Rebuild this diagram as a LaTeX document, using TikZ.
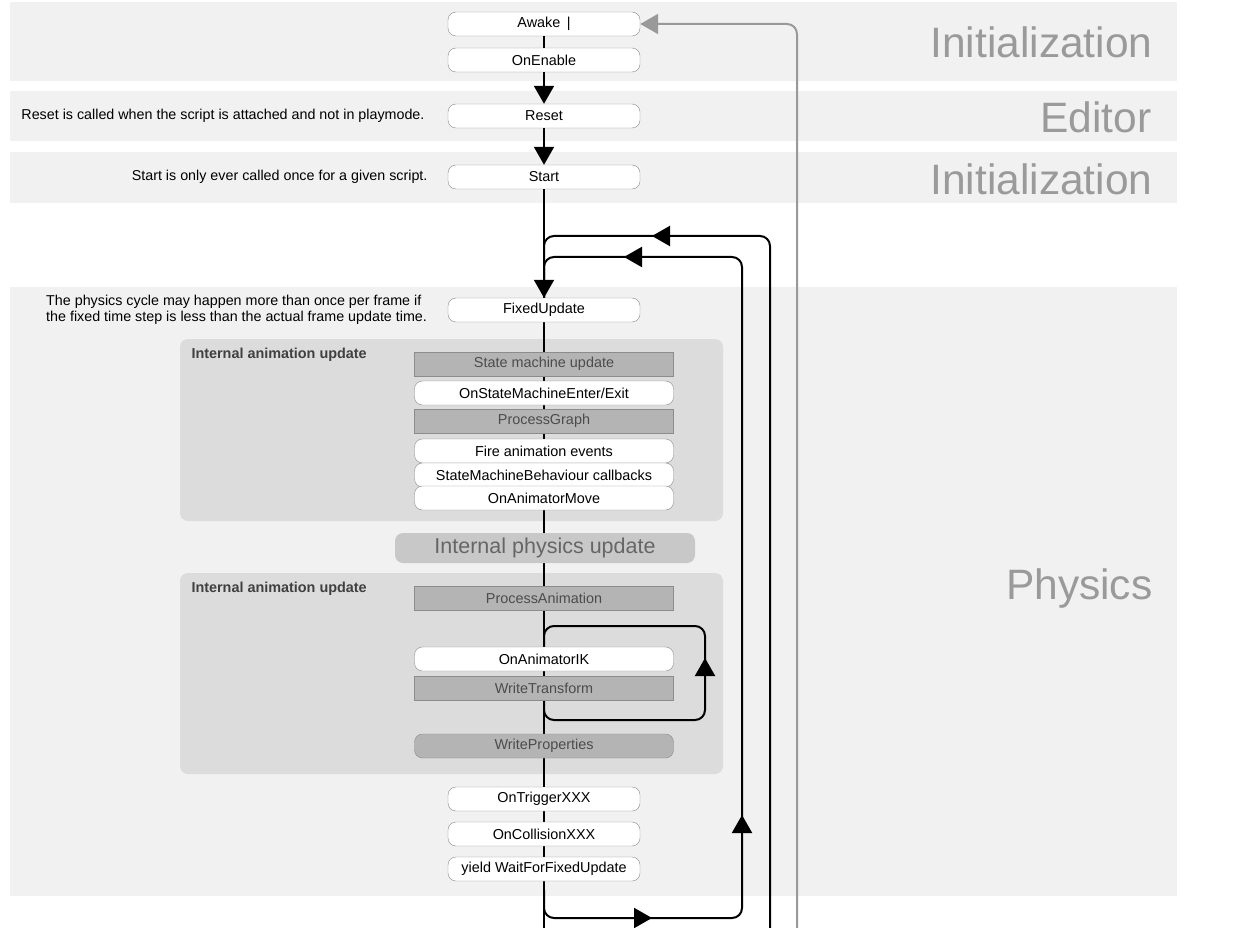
\documentclass[tikz,border=0pt]{standalone}
\usepackage{fontspec}
\setmainfont{Liberation Sans}
\usetikzlibrary{arrows.meta,backgrounds}
\definecolor{band}{HTML}{F1F1F1}
\definecolor{anim}{HTML}{DCDCDC}
\definecolor{phys}{HTML}{C8C8C8}
\definecolor{gbox}{HTML}{B4B4B4}
\definecolor{lbl}{HTML}{9A9A9A}
\begin{document}
\begin{tikzpicture}[x=1pt,y=-1pt,
  ev/.style={draw=black!45,fill=white,rounded corners=8pt,minimum width=192pt,minimum height=24pt,inner sep=0pt,font=\fontsize{14.4}{16}\selectfont},
  iev/.style={ev,minimum width=259pt},
  gr/.style={draw=black!45,fill=gbox,minimum width=259pt,minimum height=24pt,inner sep=0pt,text=black!70,font=\fontsize{14.4}{16}\selectfont},
  sec/.style={anchor=east,text=lbl,font=\fontsize{42.5}{48}\selectfont},
  note/.style={font=\fontsize{14.3}{16}\selectfont},
  ln/.style={line width=2pt},
  arr/.style={ln,-{Triangle[width=20pt,length=18pt]}},
]
\useasboundingbox (0,0) rectangle (1240,928);
\fill[white] (0,0) rectangle (1240,928);
% bands
\fill[band] (10,2) rectangle (1177,81);
\fill[band] (10,91) rectangle (1177,141);
\fill[band] (10,152) rectangle (1177,203);
\fill[band] (10,287) rectangle (1177,896);
\node[sec] (s1) at (1156,42) {Initialization};
\node[sec] (s2) at (1155,117) {Editor};
\node[sec] (s3) at (1156,179) {Initialization};
\node[sec] (s4) at (1156,589) {Physics};
% animation boxes
\fill[anim,rounded corners=8pt] (180,339) rectangle (723,521);
\fill[anim,rounded corners=8pt] (180,573) rectangle (723,774);
\node[anchor=north west,font=\bfseries\fontsize{14.4}{16}\selectfont,text=black!75] (a1) at (188,345) {Internal animation update};
\node[anchor=north west,font=\bfseries\fontsize{14.4}{16}\selectfont,text=black!75] (a2) at (188,579) {Internal animation update};
% notes
\node[note,anchor=east] (n1) at (428,116) {Reset is called when the script is attached and not in playmode.};
\node[note,anchor=east] (n2) at (431,177) {Start is only ever called once for a given script.};
\node[note,anchor=north west,align=left,inner sep=0pt] (n3) at (46,295) {The physics cycle may happen more than once per frame if\\the fixed time step is less than the actual frame update time.};
% main spine
\coordinate (bot) at (544,928);
\coordinate (j1) at (544,236);
\coordinate (j2) at (544,257);
\draw[ln] (544,310) -- (bot);
% loops
\coordinate (o1) at (770,928);
\coordinate (o2) at (742,918);
\coordinate (gx) at (797,928);
\draw[ln,rounded corners=10pt] (o1) -- (770,236) -- (j1) -- (544,300);
\draw[ln,rounded corners=10pt] (544,890) -- (544,918) -- (o2) -- (742,257) -- (j2) -- (544,300);
\draw[arr] (700,236) -- (652,236);
\draw[arr] (672,257) -- (624,257);
\draw[arr] (742,850) -- (742,815);
\draw[arr] (610,918) -- (652,918);
% IK loop
\draw[ln,rounded corners=10pt] (544,650) -- (544,626) -- (705,626) -- (705,720) -- (544,720) -- (544,700);
\draw[arr] (705,690) -- (705,658);
% internal physics
\node[fill=phys,rounded corners=8pt,minimum width=300pt,minimum height=30pt,inner sep=0pt,text=black!60,font=\fontsize{21.5}{24}\selectfont] (ip) at (545,548) {Internal physics update};
% nodes
\node[ev] (awake) at (544,24) {Awake \,|};
\node[ev] (onen) at (544,60) {OnEnable};
\node[ev] (reset) at (544,116) {Reset};
\node[ev] (start) at (544,177) {Start};
\node[ev] (fixed) at (544,310) {FixedUpdate};
\node[gr] (smu) at (544,364) {State machine update};
\node[iev] (osm) at (544,393) {OnStateMachineEnter/Exit};
\node[gr] (pg) at (544,421) {ProcessGraph};
\node[iev] (fae) at (544,451) {Fire animation events};
\node[iev] (smb) at (544,475) {StateMachineBehaviour callbacks};
\node[iev] (oam) at (544,498) {OnAnimatorMove};
\node[gr] (pa) at (544,598) {ProcessAnimation};
\node[iev] (oik) at (544,659) {OnAnimatorIK};
\node[gr] (wt) at (544,688) {WriteTransform};
\node[gr,rounded corners=8pt] (wp) at (544,746) {WriteProperties};
\node[ev] (trig) at (544,799) {OnTriggerXXX};
\node[ev] (coll) at (544,834) {OnCollisionXXX};
\node[ev] (yield) at (544,869) {yield WaitForFixedUpdate};
% connectors
\draw[ln] (awake) -- (onen);
\draw[arr] (onen) -- (reset);
\draw[arr] (reset) -- (start);
\draw[arr] (start) -- (fixed);
\draw[line width=2pt,draw=black!40,rounded corners=10pt,-{Triangle[width=20pt,length=18pt]}] (gx) -- (797,24) -- (awake.east);
\end{tikzpicture}
\end{document}
